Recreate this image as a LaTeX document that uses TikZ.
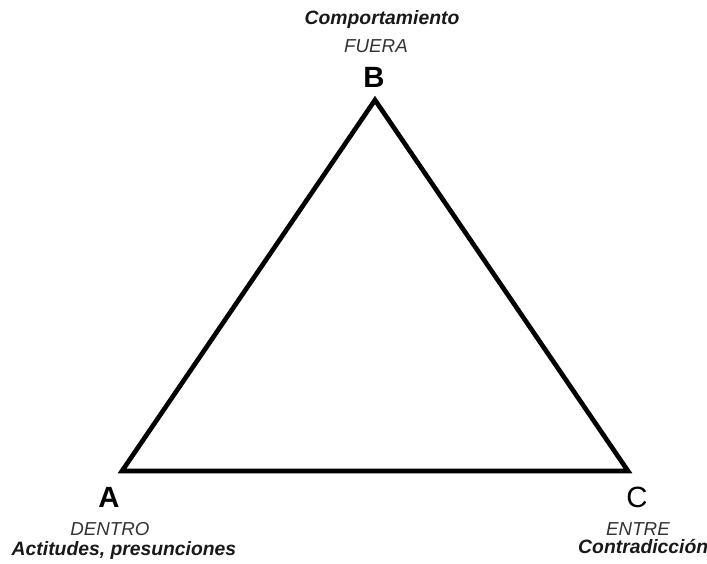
\documentclass[tikz,border=0pt]{standalone}
\usepackage{fontspec}
\setmainfont{Liberation Sans}
\usetikzlibrary{positioning}
\tikzset{
  vertexlabel/.style={font=\fontsize{25}{25}\selectfont\bfseries, anchor=base, inner sep=0pt},
  placelabel/.style={font=\fontsize{16}{16}\selectfont\itshape, anchor=base, inner sep=0pt, text=black!80},
  notelabel/.style={font=\fontsize{16.5}{16.5}\selectfont\bfseries\itshape, anchor=base, inner sep=0pt, text=black!90},
}
\begin{document}
\begin{tikzpicture}[x=0.03cm, y=-0.03cm]
  \useasboundingbox (0,0) rectangle (707,563);
  \coordinate (vA) at (122,471);
  \coordinate (vB) at (375,100);
  \coordinate (vC) at (628,471);
  \draw[line width=0.14cm, line join=miter] (vA) -- (vB) -- (vC) -- cycle;
  % top
  \node[notelabel] at (382,25) (compB) {Comportamiento};
  \node[placelabel] at (376,53) (fuera) {FUERA};
  \node[vertexlabel] at (374,88) (labB) {B};
  % left
  \node[vertexlabel] at (109,507) (labA) {A};
  \node[placelabel] at (110,535) (dentro) {DENTRO};
  \node[notelabel] at (124,555) (actit) {Actitudes, presunciones};
  % right
  \node[vertexlabel, font=\fontsize{25}{25}\selectfont] at (637,507) (labC) {C};
  \node[placelabel] at (638,535) (entre) {ENTRE};
  \node[notelabel, anchor=base west] at (578,553) (contra) {Contradicción};
\end{tikzpicture}
\end{document}
